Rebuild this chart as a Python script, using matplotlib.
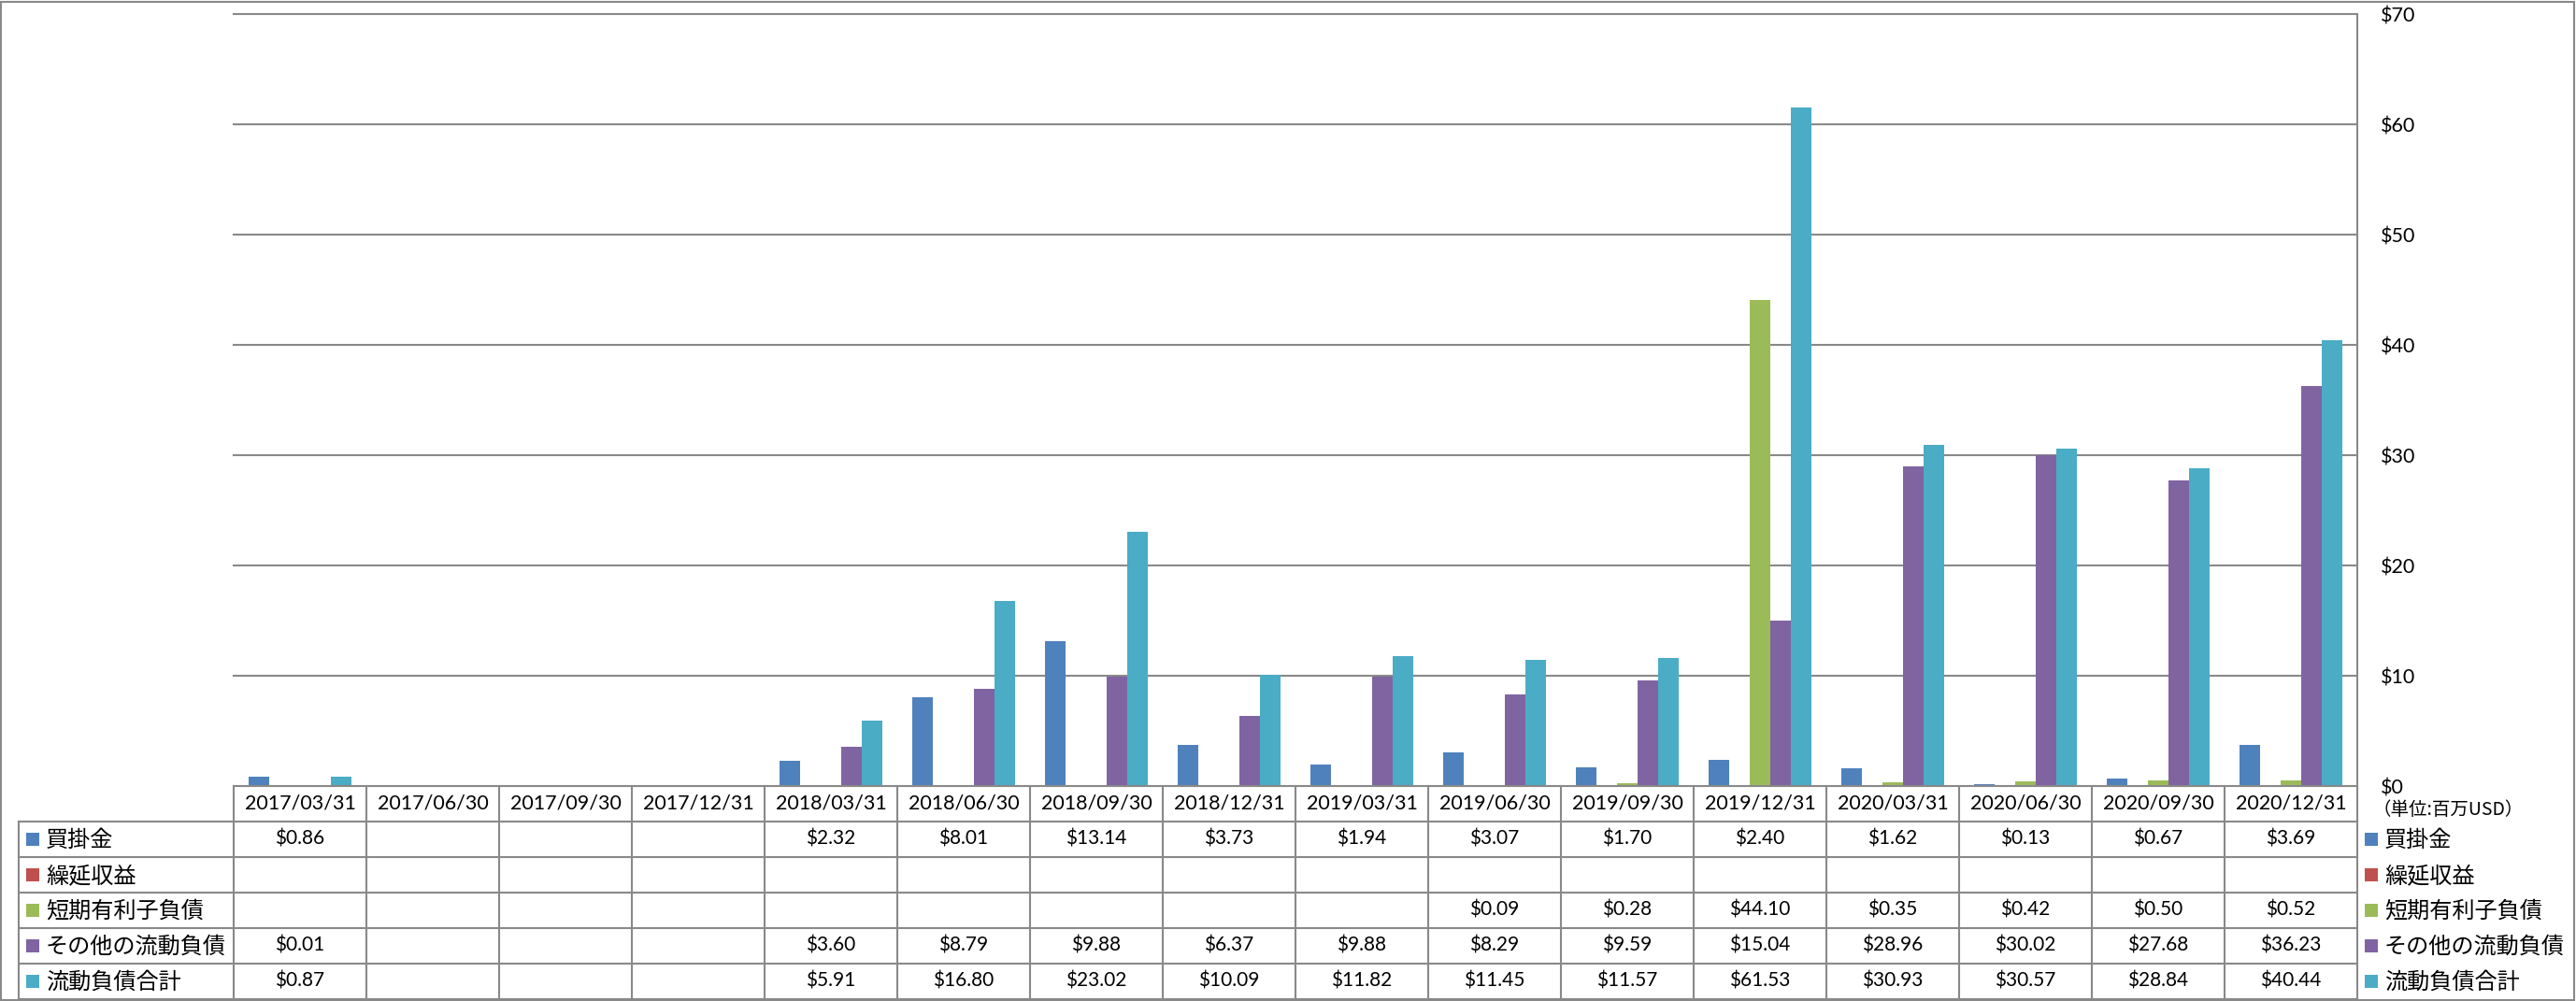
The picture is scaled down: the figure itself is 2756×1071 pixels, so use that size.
import numpy as np
import matplotlib
matplotlib.use('Agg')
import matplotlib.pyplot as plt
from matplotlib.patches import Rectangle
from matplotlib.lines import Line2D

nan = np.nan

# ---------------- data ----------------
dates = ['2017/03/31', '2017/06/30', '2017/09/30', '2017/12/31',
         '2018/03/31', '2018/06/30', '2018/09/30', '2018/12/31',
         '2019/03/31', '2019/06/30', '2019/09/30', '2019/12/31',
         '2020/03/31', '2020/06/30', '2020/09/30', '2020/12/31']
series_names = ['買掛金', '繰延収益', '短期有利子負債', 'その他の流動負債', '流動負債合計']
accounts_payable = [0.86, nan, nan, nan, 2.32, 8.01, 13.14, 3.73, 1.94, 3.07, 1.70, 2.40, 1.62, 0.13, 0.67, 3.69]
deferred_revenue = [nan] * 16
short_term_debt = [nan, nan, nan, nan, nan, nan, nan, nan, nan, 0.09, 0.28, 44.10, 0.35, 0.42, 0.50, 0.52]
other_current = [0.01, nan, nan, nan, 3.60, 8.79, 9.88, 6.37, 9.88, 8.29, 9.59, 15.04, 28.96, 30.02, 27.68, 36.23]
total_current = [0.87, nan, nan, nan, 5.91, 16.80, 23.02, 10.09, 11.82, 11.45, 11.57, 61.53, 30.93, 30.57, 28.84, 40.44]
yticks = [0, 10, 20, 30, 40, 50, 60, 70]
unit_label = '（単位:百万USD）'

all_series = [accounts_payable, deferred_revenue, short_term_debt, other_current, total_current]
colors = ['#4F81BD', '#C0504D', '#9BBB59', '#8064A2', '#4BACC6']

# ---------------- layout ----------------
W, H = 2756, 1071
JP = ['Noto Sans CJK JP', 'DejaVu Sans']
NUM = ['Lato', 'DejaVu Sans']
GRID = '#898989'

fig = plt.figure(figsize=(W / 100, H / 100), dpi=100)
L, R, T, B0, B1 = 250, 2522, 15, 841, 1069
n = len(dates)
colw = (R - L) / n

ax = fig.add_axes([L / W, 1 - B0 / H, (R - L) / W, (B0 - T) / H])
x = np.arange(n) + 0.5
bw = 22 / colw
for k, (vals, c) in enumerate(zip(all_series, colors)):
    v = np.array(vals, dtype=float)
    ax.bar(x + (k - 2) * bw, np.nan_to_num(v), width=bw, color=c, linewidth=0, zorder=3)
ax.set_xlim(0, n)
ax.set_ylim(0, 70)
ax.set_xticks([])
ax.set_yticks(yticks)
ax.set_yticklabels([f'${t}' for t in yticks], fontfamily=NUM, fontsize=15.5)
ax.yaxis.tick_right()
ax.tick_params(axis='y', length=0, pad=18)
for s in ax.spines.values():
    s.set_visible(False)
for t in yticks[1:]:
    ax.axhline(t, color=GRID, lw=1.5, zorder=1, clip_on=False)
ax.axvline(n, color=GRID, lw=1.5, zorder=1, clip_on=False)

# ---------------- data table ----------------
tax = fig.add_axes([L / W, 1 - B1 / H, (R - L) / W, (B1 - B0) / H])
tax.set_xlim(0, n)
tax.set_ylim(6, 0)
tax.axis('off')
xl = (20 - L) / colw
lw = 1.5
tax.add_line(Line2D([0, n], [0, 0], color=GRID, lw=lw, clip_on=False))
for r in range(1, 7):
    tax.add_line(Line2D([xl, n], [r, r], color=GRID, lw=lw, clip_on=False))
for c in range(n + 1):
    tax.add_line(Line2D([c, c], [0, 6], color=GRID, lw=lw, clip_on=False))
tax.add_line(Line2D([xl, xl], [1, 6], color=GRID, lw=lw, clip_on=False))

for i, d in enumerate(dates):
    tax.text(i + 0.5, 0.5, d, ha='center', va='center', fontsize=15.5, fontfamily=NUM, clip_on=False)

sq_w = 14 / colw
sq_h = 14 / 38
for r, (name, vals, c) in enumerate(zip(series_names, all_series, colors)):
    y = r + 1.5
    # left label
    tax.add_patch(Rectangle(((28 - L) / colw, y - sq_h / 2), sq_w, sq_h, color=c, clip_on=False, lw=0))
    tax.text((49 - L) / colw, y + 0.02, name, ha='left', va='center', fontsize=17.4, fontfamily=JP, clip_on=False)
    # right legend
    tax.add_patch(Rectangle(((2530 - L) / colw, y - sq_h / 2), sq_w, sq_h, color=c, clip_on=False, lw=0))
    tax.text((2551 - L) / colw, y + 0.02, name, ha='left', va='center', fontsize=17.4, fontfamily=JP, clip_on=False)
    for i, v in enumerate(vals):
        if not np.isnan(v):
            tax.text(i + 0.5, y, f'${v:.2f}', ha='center', va='center', fontsize=15, fontfamily=NUM, clip_on=False)

fig.text(2538 / W, 1 - 867 / H, unit_label, ha='left', va='center', fontsize=14, fontfamily=JP)

# outer border
fig.add_artist(Rectangle((1 / W, 1 - 1069.5 / H), 2753 / W, 1068 / H, transform=fig.transFigure,
                         fill=False, edgecolor=GRID, lw=1.5))

fig.savefig('out.png', dpi=100, facecolor='white')
